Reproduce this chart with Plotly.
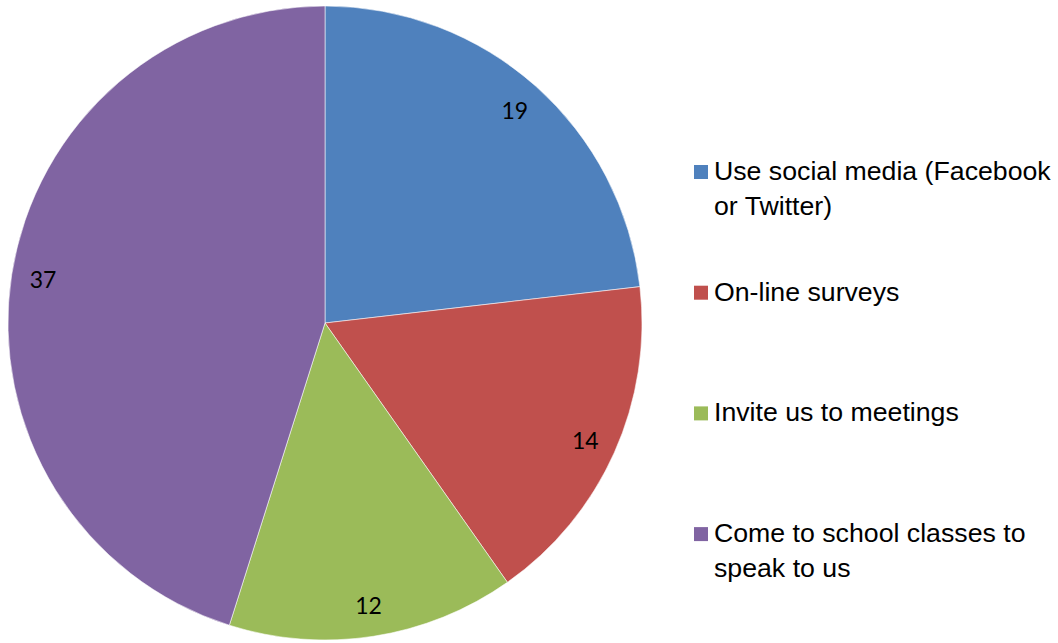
import plotly.graph_objects as go

# Survey responses: preferred ways to be consulted
categories = [
    "Use social media (Facebook<br>or Twitter)",
    "On-line surveys",
    "Invite us to meetings",
    "Come to school classes to<br>speak to us",
]
values = [19, 14, 12, 37]
colors = ["#4F81BD", "#C0504D", "#9BBB59", "#8064A2"]

W, H = 1058, 643
cx, cy, r = 325, 323, 317
domain = dict(
    x=[(cx - r) / W, (cx + r) / W],
    y=[(H - cy - r) / H, (H - cy + r) / H],
)

fig = go.Figure()

# Main pie
fig.add_trace(go.Pie(
    labels=categories,
    values=values,
    sort=False,
    direction="clockwise",
    rotation=0,
    marker=dict(colors=colors, line=dict(color="rgba(255,255,255,0.55)", width=1)),
    textinfo="none",
    hoverinfo="label+value",
    domain=domain,
    showlegend=False,
))

# Transparent ring carrying the value labels near the outer edge
fig.add_trace(go.Pie(
    labels=categories,
    values=values,
    sort=False,
    direction="clockwise",
    rotation=0,
    hole=0.8,
    marker=dict(colors=["rgba(0,0,0,0)"] * len(values), line=dict(width=0)),
    textinfo="value",
    textposition="inside",
    insidetextorientation="horizontal",
    textfont=dict(family="Lato, Carlito, Calibri, sans-serif", size=23, color="#000000"),
    hoverinfo="skip",
    domain=domain,
    showlegend=False,
))

# Legend drawn on the right: colour square + label, evenly spaced entries
legend_font = dict(family="Liberation Sans, Arial, sans-serif", size=26.7, color="#000000")
first_y, step = 172, 120.7
sq = 14
sq_left, text_left = 694, 712
annotations, shapes = [], []
for i, (lab, col) in enumerate(zip(categories, colors)):
    yc = first_y + i * step
    shapes.append(dict(
        type="rect", xref="paper", yref="paper",
        x0=sq_left / W, x1=(sq_left + sq) / W,
        y0=1 - (yc + sq / 2) / H, y1=1 - (yc - sq / 2) / H,
        fillcolor=col, line=dict(width=0),
    ))
    annotations.append(dict(
        xref="paper", yref="paper",
        x=text_left / W, y=1 - (yc - 18) / H,
        xanchor="left", yanchor="top", align="left",
        text=lab, showarrow=False, font=legend_font,
    ))

fig.update_layout(
    width=W,
    height=H,
    margin=dict(l=0, r=0, t=0, b=0),
    paper_bgcolor="white",
    plot_bgcolor="white",
    shapes=shapes,
    annotations=annotations,
)

fig.write_html("out.html")
